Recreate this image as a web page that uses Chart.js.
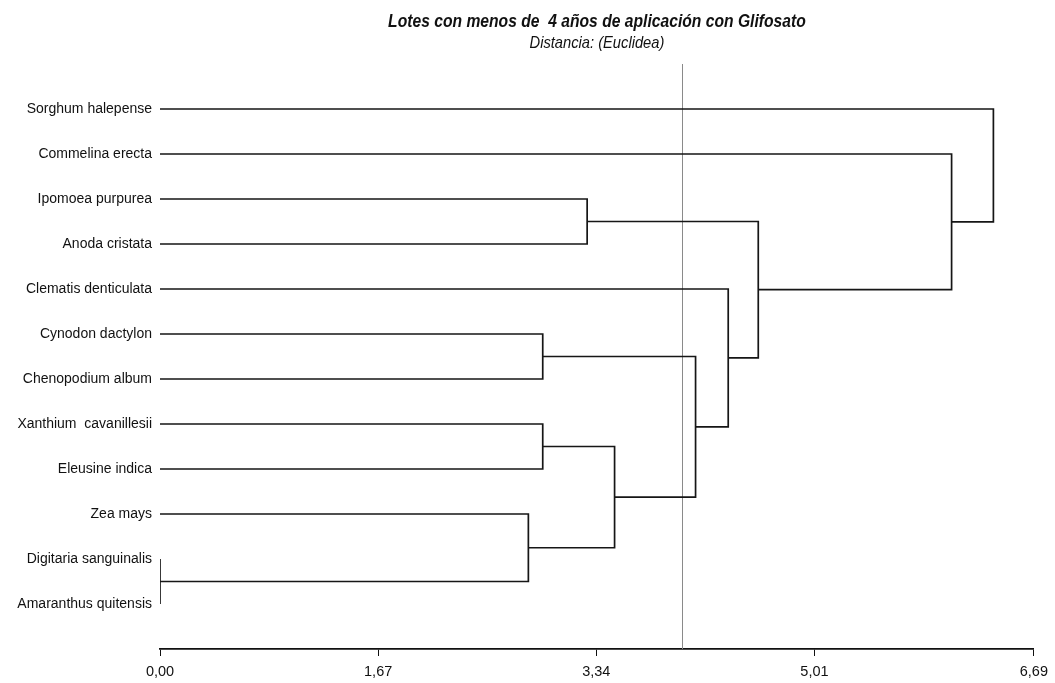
<!DOCTYPE html>
<html>
<head>
<meta charset="utf-8">
<title>Dendrograma - Glifosato</title>
<script src="https://cdn.jsdelivr.net/npm/chart.js@4/dist/chart.umd.min.js"></script>
<style>
  html, body { margin: 0; padding: 0; background: #ffffff; }
  #wrap { width: 1055px; height: 683px; position: relative; }
</style>
</head>
<body>
<div id="wrap"><canvas id="chart"></canvas></div>
<script>
// Species (leaves), top to bottom
const leafNames = [
  "Sorghum halepense",
  "Commelina erecta",
  "Ipomoea purpurea",
  "Anoda cristata",
  "Clematis denticulata",
  "Cynodon dactylon",
  "Chenopodium album",
  "Xanthium  cavanillesii",
  "Eleusine indica",
  "Zea mays",
  "Digitaria sanguinalis",
  "Amaranthus quitensis"
];

// Agglomeration steps: nodes 0..11 are leaves, step k creates node 12 + k
const mergeLeft   = [10, 2, 5, 7, 9, 15, 14, 4, 13, 1, 0];
const mergeRight  = [11, 3, 6, 8, 12, 16, 17, 18, 19, 20, 21];
const mergeHeight = [0.00, 3.27, 2.93, 2.93, 2.82, 3.48, 4.10, 4.35, 4.58, 6.06, 6.38];

// Distance axis
const axisTicks = [0.00, 1.67, 3.34, 5.01, 6.69];
const axisMax = 6.69;

// Cut level
const cutHeight = 4.00;

const titleText = "Lotes con menos de  4 años de aplicación con Glifosato";
const subtitleText = "Distancia: (Euclidea)";

const FONT = '"Liberation Sans", Arial, sans-serif';

// Build node positions and the U-shaped links of the tree
const nodeY = leafNames.map((_, i) => i);
const nodeH = leafNames.map(() => 0);
const linkDatasets = [];
mergeLeft.forEach((l, k) => {
  const r = mergeRight[k];
  const h = mergeHeight[k];
  linkDatasets.push({
    data: [
      { x: nodeH[l], y: nodeY[l] },
      { x: h, y: nodeY[l] },
      { x: h, y: nodeY[r] },
      { x: nodeH[r], y: nodeY[r] }
    ],
    showLine: true,
    borderColor: '#161616',
    borderWidth: 1.7,
    pointRadius: 0,
    pointHoverRadius: 0,
    fill: false,
    tension: 0,
    order: 1
  });
  nodeY.push((nodeY[l] + nodeY[r]) / 2);
  nodeH.push(h);
});

const yMin = -1;
const yMax = leafNames.length;

const cutDataset = {
  data: [{ x: cutHeight, y: yMin }, { x: cutHeight, y: yMax }],
  showLine: true,
  borderColor: '#8a8a8a',
  borderWidth: 1,
  pointRadius: 0,
  pointHoverRadius: 0,
  fill: false,
  order: 2
};

// Condensed header text centred over the plot area
function drawCondensed(ctx, text, cx, baseline, font, squeeze) {
  ctx.save();
  ctx.font = font;
  ctx.translate(cx, baseline);
  ctx.scale(squeeze, 1);
  ctx.fillText(text, 0, 0);
  ctx.restore();
}

const headerPlugin = {
  id: 'headerText',
  afterDraw(chart) {
    const { ctx, chartArea } = chart;
    const cx = (chartArea.left + chartArea.right) / 2;
    ctx.save();
    ctx.fillStyle = '#111111';
    ctx.textAlign = 'center';
    ctx.textBaseline = 'alphabetic';
    drawCondensed(ctx, titleText, cx, 27, 'italic bold 18px ' + FONT, 0.87);
    drawCondensed(ctx, subtitleText, cx, 48, 'italic 17px ' + FONT, 0.865);
    ctx.restore();
  }
};

new Chart(document.getElementById('chart'), {
  type: 'scatter',
  data: { datasets: [cutDataset, ...linkDatasets] },
  plugins: [headerPlugin],
  options: {
    responsive: true,
    maintainAspectRatio: false,
    animation: false,
    layout: { padding: { top: 64, right: 18, bottom: 0, left: 0 } },
    plugins: {
      legend: { display: false },
      tooltip: { enabled: false },
      title: { display: false }
    },
    scales: {
      x: {
        type: 'linear',
        min: 0,
        max: axisMax,
        afterBuildTicks(scale) {
          scale.ticks = axisTicks.map(v => ({ value: v }));
        },
        afterFit(scale) { scale.height = 34; },
        ticks: {
          autoSkip: false,
          maxRotation: 0,
          padding: 7,
          color: '#111111',
          font: { family: FONT, size: 14.5 },
          callback: (v) => Number(v).toFixed(2).replace('.', ',')
        },
        grid: {
          display: true,
          drawOnChartArea: false,
          drawTicks: true,
          tickLength: 7,
          color: '#111111',
          lineWidth: 1
        },
        border: { display: true, color: '#111111', width: 1.7 }
      },
      y: {
        type: 'linear',
        reverse: true,
        min: yMin,
        max: yMax,
        afterBuildTicks(scale) {
          scale.ticks = leafNames.map((_, i) => ({ value: i }));
        },
        afterFit(scale) { scale.width = 160; },
        ticks: {
          autoSkip: false,
          padding: 8,
          color: '#111111',
          font: { family: FONT, size: 14 },
          callback: (v) => leafNames[v] !== undefined ? leafNames[v] : ''
        },
        grid: { display: false, drawTicks: false },
        border: { display: false }
      }
    }
  }
});
</script>
</body>
</html>
